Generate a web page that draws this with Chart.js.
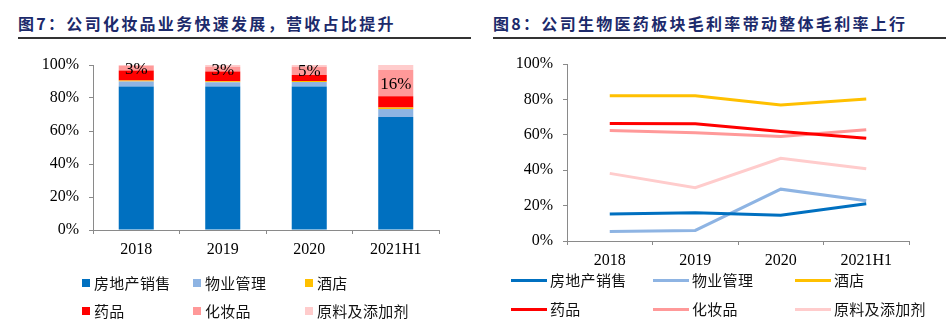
<!DOCTYPE html>
<html>
<head>
<meta charset="utf-8">
<script src="https://cdn.jsdelivr.net/npm/chart.js@4/dist/chart.umd.min.js"></script>
<style>
  body { margin: 0; width: 946px; height: 330px; background: #fff; position: relative; overflow: hidden; font-family: "Noto Sans CJK SC", sans-serif; }
  .title { position: absolute; top: 12px; width: 453px; height: 22px; line-height: 22px; padding-bottom: 3px;
           font-size: 16px; font-weight: 700; color: #1c2a6b; letter-spacing: 2.3px; border-bottom: 2px solid #333; white-space: nowrap; }
  .box { position: absolute; }
  .legend span { position: absolute; font-size: 15px; line-height: 20px; color: #111; white-space: nowrap; letter-spacing: 0.3px; }
  .legend i { position: absolute; display: block; }
</style>
</head>
<body>
<div class="title" style="left:18px">图7：公司化妆品业务快速发展，营收占比提升</div>
<div class="title" style="left:493px">图8：公司生物医药板块毛利率带动整体毛利率上行</div>

<div class="box" style="left:0;top:40px;width:470px;height:220px"><canvas id="shareChart"></canvas></div>
<div class="box" style="left:473px;top:40px;width:473px;height:230px"><canvas id="marginChart"></canvas></div>
<div class="legend" id="shareLegend"></div>
<div class="legend" id="marginLegend"></div>

<script>
const years = ["2018", "2019", "2020", "2021H1"];
const segments = ["房地产销售", "物业管理", "酒店", "药品", "化妆品", "原料及添加剂"];
const yTicks = [0, 20, 40, 60, 80, 100];

// revenue share by segment, %
const shareRealEstate = [87, 87, 87, 68.5];
const shareProperty = [3, 2.6, 2.7, 4.8];
const shareHotel = [0.6, 0.6, 0.6, 1];
const sharePharma = [6, 5.8, 3.7, 6.7];
const shareCosmetics = [3, 3, 5, 16];
const shareMaterials = [0.4, 1, 1, 3];

// gross margin by segment, %
const marginRealEstate = [15.3, 15.9, 14.6, 21.0];
const marginProperty = [5.3, 6.0, 29.3, 22.7];
const marginHotel = [82.0, 82.0, 76.9, 80.2];
const marginPharma = [66.4, 66.2, 61.8, 58.0];
const marginCosmetics = [62.4, 61.2, 59.0, 62.8];
const marginMaterials = [38.2, 30.1, 46.7, 40.8];

const colors = ["#0070C0", "#8EB4E3", "#FFC000", "#FF0000", "#FF9999", "#FFCCCC"];
const numFont = { family: "Liberation Serif", size: 16 };
const axisGray = "#8a8a8a";

const shareSeries = [shareRealEstate, shareProperty, shareHotel, sharePharma, shareCosmetics, shareMaterials];
const marginSeries = [marginRealEstate, marginProperty, marginHotel, marginPharma, marginCosmetics, marginMaterials];

function yAxis(width) {
  return {
    min: 0, max: 100,
    afterFit: s => { s.width = width; },
    afterBuildTicks: s => { s.ticks = yTicks.map(v => ({ value: v })); },
    ticks: { font: numFont, color: "#000", padding: 10, callback: v => v + "%" },
    grid: { drawOnChartArea: false, tickLength: 4, color: axisGray },
    border: { color: axisGray }
  };
}
function xAxis(height) {
  return {
    offset: true,
    afterFit: s => { s.height = height; },
    ticks: { font: numFont, color: "#000", padding: 6, maxRotation: 0 },
    grid: { offset: true, drawOnChartArea: false, tickLength: 4, color: axisGray },
    border: { color: axisGray }
  };
}

// percentage labels on the cosmetics segment
const cosmeticsLabels = {
  id: "cosmeticsLabels",
  afterDatasetsDraw(chart) {
    const ctx = chart.ctx;
    ctx.save();
    ctx.font = '17px "Liberation Serif"';
    ctx.fillStyle = "#000";
    ctx.textAlign = "center";
    ctx.textBaseline = "middle";
    chart.getDatasetMeta(4).data.forEach((bar, i) => {
      const c = bar.getCenterPoint();
      ctx.fillText(shareCosmetics[i] + "%", c.x, c.y + 1);
    });
    ctx.restore();
  }
};

new Chart(document.getElementById("shareChart"), {
  type: "bar",
  data: {
    labels: years,
    datasets: segments.map((name, i) => ({
      label: name,
      data: shareSeries[i],
      backgroundColor: colors[i],
      borderWidth: 0,
      categoryPercentage: 1,
      barPercentage: 0.405
    }))
  },
  options: {
    responsive: true,
    maintainAspectRatio: false,
    animation: false,
    layout: { padding: { left: 0, right: 31, top: 25, bottom: 0 } },
    plugins: { legend: { display: false }, tooltip: { enabled: false } },
    scales: {
      x: Object.assign(xAxis(30), { stacked: true }),
      y: Object.assign(yAxis(93), { stacked: true })
    }
  },
  plugins: [cosmeticsLabels]
});

new Chart(document.getElementById("marginChart"), {
  type: "line",
  data: {
    labels: years,
    datasets: segments.map((name, i) => ({
      label: name,
      data: marginSeries[i],
      borderColor: colors[i],
      backgroundColor: colors[i],
      borderWidth: 3,
      pointRadius: 0,
      tension: 0,
      fill: false
    }))
  },
  options: {
    responsive: true,
    maintainAspectRatio: false,
    animation: false,
    layout: { padding: { left: 0, right: 37, top: 24, bottom: 0 } },
    plugins: { legend: { display: false }, tooltip: { enabled: false } },
    scales: { x: xAxis(29), y: yAxis(94) }
  }
});

// legends: two rows of three
function buildLegend(id, cols, rows, drawKey) {
  const el = document.getElementById(id);
  segments.forEach((name, i) => {
    const x = cols[i % 3], y = rows[Math.floor(i / 3)];
    drawKey(el, x, y, colors[i]);
    const t = document.createElement("span");
    t.textContent = name;
    t.style.left = x.text + "px";
    t.style.top = (y - 10) + "px";
    el.appendChild(t);
  });
}

buildLegend("shareLegend",
  [{ key: 82, text: 94 }, { key: 193, text: 205 }, { key: 305, text: 317 }], [283, 311],
  (el, x, y, c) => {
    const k = document.createElement("i");
    Object.assign(k.style, { left: x.key + "px", top: (y - 4) + "px", width: "8px", height: "8px", background: c });
    el.appendChild(k);
  });

buildLegend("marginLegend",
  [{ key: 511, text: 550 }, { key: 653, text: 692 }, { key: 795, text: 834 }], [280, 309],
  (el, x, y, c) => {
    const k = document.createElement("i");
    Object.assign(k.style, { left: x.key + "px", top: (y - 1.5) + "px", width: "36px", height: "3px", background: c });
    el.appendChild(k);
  });
</script>
</body>
</html>
